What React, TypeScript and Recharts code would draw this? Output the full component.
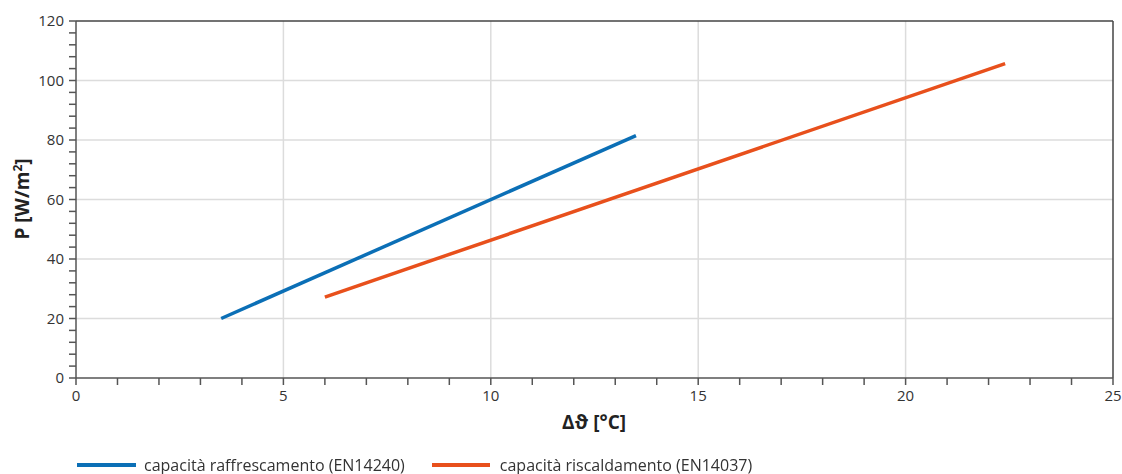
import { LineChart, Line, XAxis, YAxis, CartesianGrid, ReferenceLine } from 'recharts'

const coolingX = [3.5, 13.5]
const coolingP = [20, 81.5]
const heatingX = [6, 22.4]
const heatingP = [27.2, 105.7]

const xTicks = Array.from({ length: 26 }, (_, i) => i)
const yTicks = Array.from({ length: 31 }, (_, i) => i * 4)
const xMajor = [0, 5, 10, 15, 20, 25]
const yMajor = [0, 20, 40, 60, 80, 100, 120]

const seriesNames = ['capacità raffrescamento (EN14240)', 'capacità riscaldamento (EN14037)']
const BLUE = '#0b6fb6'
const ORANGE = '#e8501c'

const cooling = coolingX.map((x, i) => ({ x, p: coolingP[i] }))
const heating = heatingX.map((x, i) => ({ x, p: heatingP[i] }))

const font = '"Open Sans", sans-serif'
const tickStyle = { fill: '#333', fontSize: 15, fontFamily: font }

export default function App() {
  return (
    <div style={{ position: 'fixed', left: 0, top: 0, width: 1122, height: 474, background: '#fff', fontFamily: font }}>
      <LineChart width={1122} height={474} margin={{ top: 21, right: 9, left: 16, bottom: 65 }}>
        <CartesianGrid
          stroke="#dcdcdc"
          strokeWidth={1.5}
          horizontalValues={yMajor.slice(1, -1)}
          verticalValues={xMajor.slice(1, -1)}
        />
        <XAxis
          dataKey="x"
          type="number"
          domain={[0, 25]}
          ticks={xTicks}
          interval={0}
          tickFormatter={(v: number) => (v % 5 === 0 ? String(v) : '')}
          tick={tickStyle}
          tickSize={7}
          tickMargin={5}
          height={31}
          stroke="#555"
          strokeWidth={1.5}
          allowDataOverflow
        />
        <YAxis
          type="number"
          domain={[0, 120]}
          ticks={yTicks}
          interval={0}
          tickFormatter={(v: number) => (v % 20 === 0 ? String(v) : '')}
          tick={tickStyle}
          tickSize={7}
          tickMargin={5}
          width={60}
          stroke="#555"
          strokeWidth={1.5}
          allowDataOverflow
        />
        <ReferenceLine y={120} stroke="#444" strokeWidth={1.5} />
        <ReferenceLine x={25} stroke="#444" strokeWidth={1.5} />
        <Line data={cooling} dataKey="p" stroke={BLUE} strokeWidth={3.5} dot={false} isAnimationActive={false} />
        <Line data={heating} dataKey="p" stroke={ORANGE} strokeWidth={3.5} dot={false} isAnimationActive={false} />
        <text
          transform="translate(29 199) rotate(-90)"
          textAnchor="middle"
          style={{ fontSize: 19, fontWeight: 700, fontFamily: font, fill: '#222' }}
        >
          P [W/m<tspan dy={-7} fontSize={12}>2</tspan>
          <tspan dy={7}>]</tspan>
        </text>
        <text
          x={594}
          y={429}
          textAnchor="middle"
          style={{ fontSize: 19, fontWeight: 700, fontFamily: font, fill: '#222' }}
        >
          Δϑ [°C]
        </text>
      </LineChart>
      <div style={{ position: 'absolute', left: 77, top: 456, height: 18, lineHeight: '18px', display: 'flex', alignItems: 'center', fontSize: 16, color: '#333', whiteSpace: 'nowrap' }}>
        <span style={{ display: 'inline-block', width: 59, height: 4, background: BLUE, marginRight: 8 }} />
        <span style={{ marginRight: 27 }}>{seriesNames[0]}</span>
        <span style={{ display: 'inline-block', width: 58, height: 4, background: ORANGE, marginRight: 10 }} />
        <span>{seriesNames[1]}</span>
      </div>
    </div>
  )
}
